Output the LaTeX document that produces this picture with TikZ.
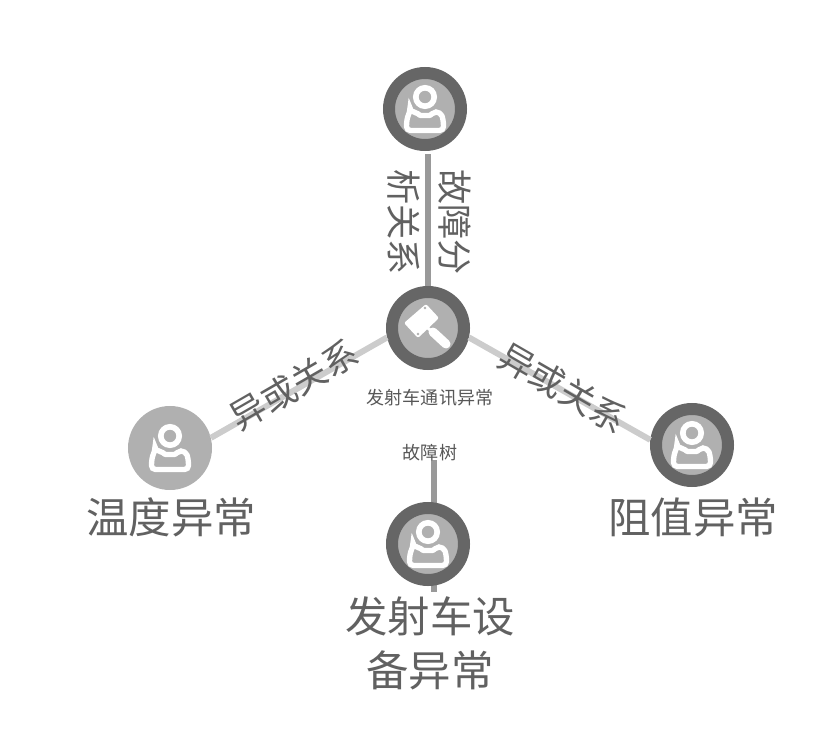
\documentclass[tikz,border=0pt]{standalone}
\usepackage{fontspec}
\setmainfont{Noto Sans CJK SC}
\tikzset{
	hubnode/.style={circle, draw=black!60, fill=black!31, line width=3.6mm, minimum size=2.16cm, inner sep=0},
	leafnode/.style={circle, fill=black!31, minimum size=2.52cm, inner sep=0},
	biglabel/.style={color=black!62, align=center, font=\fontsize{36.2}{46}\selectfont},
	edgelabel/.style={color=black!62, align=center, font=\fontsize{30}{43}\selectfont},
	smalllabel/.style={color=black!66, font=\fontsize{15.4}{18}\selectfont},
	faultlink/.style={line width=1.8mm, color=black!40},
	orlink/.style={line width=1.8mm, color=black!20},
	person/.pic={
		\draw[white, line width=1.7mm] (0, -12) circle (9.2);
		\draw[white, line width=1.6mm, rounded corners=1.2mm, fill=black!31] (-15, 3) .. controls (-8, 3) and (-6, 6.5) .. (0, 6.5) .. controls (6, 6.5) and (8, 3) .. (15, 3) .. controls (17.5, 8) and (18.5, 12) .. (18.5, 21.5) -- (-18.5, 21.5) .. controls (-18.5, 12) and (-17.5, 8) .. cycle;
	},
	gavel/.pic={
		\fill[white, rounded corners=0.6mm] (-2, -24) -- (11, -10) -- (-10, 10) -- (-24, -5) -- cycle;
		\fill[black!31] (-3, -20) circle (1.3);
		\fill[black!31] (-10, 6) circle (1.3);
		\draw[white, line width=0.9mm] (-4, -3) -- (6, 5);
		\draw[white, line width=2.7mm, line cap=round] (5, 4) -- (18, 16);
	}
}

\begin{document}
\begin{tikzpicture}[x=0.03cm, y=-0.03cm]
	%%%%% START %%%%%
	\useasboundingbox (0, 0) rectangle (839, 735);

	\coordinate (treetop) at (434, 460);
	\coordinate (treeend) at (434, 592);
	\draw[faultlink] (treetop) -- (treeend);

	\node[hubnode] (top) at (425, 109) {};
	\node[hubnode] (centre) at (428, 328) {};
	\node[leafnode] (left) at (170, 448) {};
	\node[hubnode] (right) at (692, 445) {};
	\node[hubnode] (bottom) at (428, 544) {};

	\pic at (top) {person};
	\pic at (centre) {gavel};
	\pic at (left) {person};
	\pic at (right) {person};
	\pic at (bottom) {person};

	\draw[faultlink, shorten >=0.09cm] (centre.north) -- (centre.north |- top.south);
	\draw[orlink] (centre.193) -- (left.14);
	\draw[orlink] (centre.-13) -- (right.173);

	\node[edgelabel, rotate=-90] (toplabel) at (429.5, 222) {故障分\\析关系};
	\node[edgelabel, rotate=30] (leftlink) at (294, 385) {异或关系};
	\node[edgelabel, rotate=-30] (rightlink) at (563, 388) {异或关系};

	\node[smalllabel] (centrelabel) at (430, 398) {发射车通讯异常};
	\node[smalllabel] (treelabel) at (430, 453) {故障树};

	\node[biglabel] (leftlabel) at (171, 517) {温度异常};
	\node[biglabel] (rightlabel) at (693, 517) {阻值异常};
	\node[biglabel] (bottomlabel) at (430, 643) {发射车设\\备异常};
	%%%%% END %%%%%
\end{tikzpicture}
\end{document}
